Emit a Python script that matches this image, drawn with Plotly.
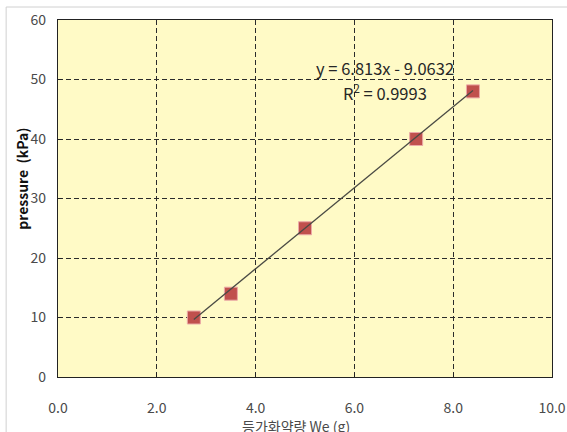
import numpy as np
import plotly.graph_objects as go

# Measured charge vs pressure
charge_g = [2.75, 3.5, 5.0, 7.25, 8.4]
pressure_kpa = [10, 14, 25, 40, 48]

# Linear trendline coefficients
slope = 6.813
intercept = -9.0632
r_squared = 0.9993

x_ticks = [0, 2, 4, 6, 8, 10]
x_tick_text = ["0.0", "2.0", "4.0", "6.0", "8.0", "10.0"]
y_ticks = [0, 10, 20, 30, 40, 50, 60]

FONT = "Noto Sans CJK KR, Noto Sans, sans-serif"

fit_x = np.array([min(charge_g), max(charge_g)])
fit_y = slope * fit_x + intercept

fig = go.Figure()
fig.add_trace(go.Scatter(
    x=charge_g, y=pressure_kpa, mode="markers",
    marker=dict(symbol="square", size=13, color="#C0504D",
                line=dict(color="#EBA9A7", width=1)),
    showlegend=False, cliponaxis=False,
))
fig.add_trace(go.Scatter(
    x=fit_x, y=fit_y, mode="lines",
    line=dict(color="#4A4A44", width=1.3),
    showlegend=False,
))

grid = dict(showgrid=True, gridcolor="#2b2b2b", gridwidth=1, griddash="5px,3px",
            zeroline=False, showline=True, linecolor="#222222", linewidth=1.2,
            mirror=True, ticks="inside", ticklen=4, tickcolor="#222222",
            automargin=False,
            tickfont=dict(family=FONT, size=14, color="#4a4a4a"))

fig.update_xaxes(range=[0, 10], tickvals=x_ticks, ticktext=x_tick_text,
                 ticklabelstandoff=18, **grid)
fig.update_yaxes(range=[0, 60], tickvals=y_ticks, ticklabelstandoff=8, **grid)

fig.add_annotation(
    text=f"y = {slope}x - {intercept * -1}", x=6.62, y=51.9, xref="x", yref="y",
    showarrow=False, font=dict(family=FONT, size=16.5, color="#262626"),
)
fig.add_annotation(
    text=f"R<sup>2</sup> = {r_squared}", x=6.62, y=47.8, xref="x", yref="y",
    showarrow=False, font=dict(family=FONT, size=16.5, color="#262626"),
)

fig.add_annotation(
    text="pressure  (kPa)", textangle=-90, xref="paper", yref="paper",
    x=-0.073, y=0.555, xanchor="center", yanchor="middle", showarrow=False,
    font=dict(family=FONT, size=14, color="#111111", weight="bold"),
)
fig.add_annotation(
    text="등가화약량 We (g)", xref="paper", yref="paper",
    x=0.482, y=-0.137, xanchor="center", yanchor="middle", showarrow=False,
    font=dict(family=FONT, size=14, color="#4a4a4a"),
)

# Chart-area frame
fig.add_shape(type="line", xref="paper", yref="paper", x0=-0.105, x1=1.1,
              y0=1.0364, y1=1.0364, line=dict(color="#d0d0d0", width=1))
fig.add_shape(type="line", xref="paper", yref="paper", x0=-0.105, x1=-0.105,
              y0=-0.2, y1=1.0364, line=dict(color="#d0d0d0", width=1))

fig.update_layout(
    width=567, height=432,
    margin=dict(l=58, r=15, t=20, b=55, autoexpand=False),
    paper_bgcolor="white", plot_bgcolor="#FFFAC6",
    font=dict(family=FONT),
)

fig.write_html("out.html")
